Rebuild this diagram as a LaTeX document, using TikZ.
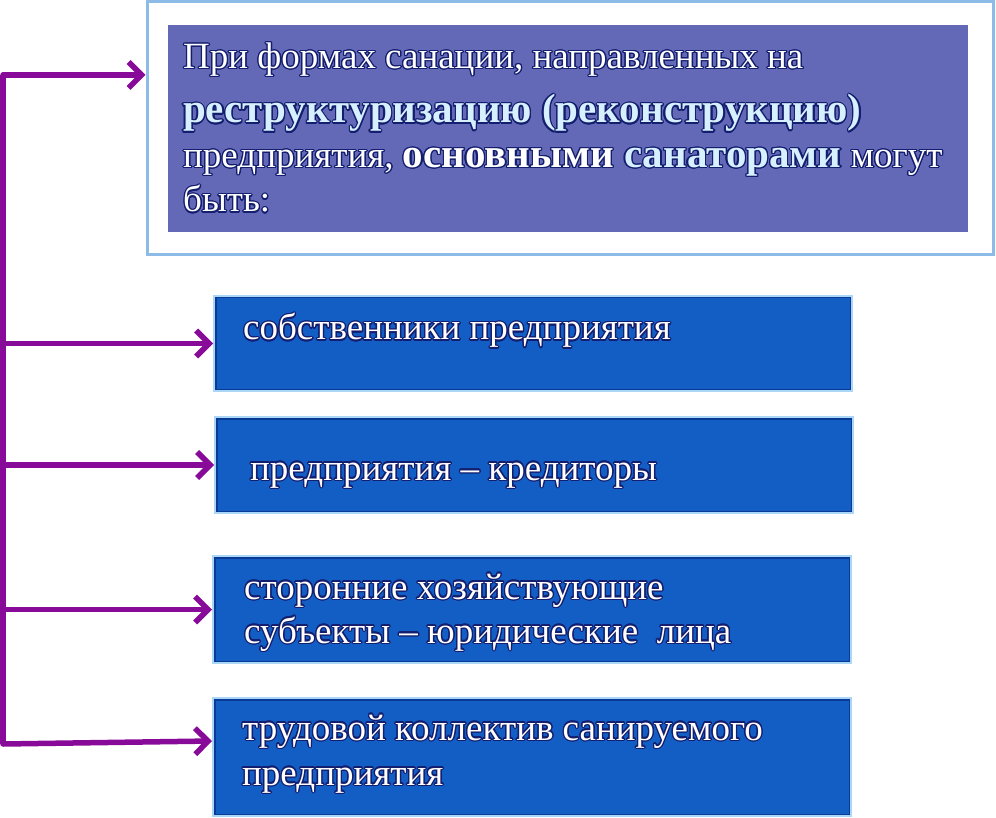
\documentclass[tikz,border=0pt]{standalone}
\usepackage{fontspec}
\setmainfont{Liberation Serif}
\usepackage[copies]{contour}
\contourlength{1.3pt}
\usetikzlibrary{arrows.meta}

\definecolor{spine}{RGB}{136,10,152}
\definecolor{headedge}{RGB}{141,187,231}
\definecolor{headfill}{RGB}{99,105,183}
\definecolor{itemfill}{RGB}{18,94,196}
\definecolor{itemdark}{RGB}{8,58,150}
\definecolor{itemedge}{RGB}{170,214,248}
\definecolor{boldtext}{RGB}{215,240,255}
\definecolor{glow}{RGB}{20,30,110}

\newcommand{\glow}[1]{\contour{glow}{#1}}

\tikzset{
	itembox/.style={draw=itemedge, line width=2pt, fill=itemfill, minimum width=638pt, inner sep=0pt,
		path picture={\draw[itemdark, line width=5pt] (path picture bounding box.south west) rectangle (path picture bounding box.north east);}},
	itemtext/.style={text=white, font=\fontsize{37}{44}\selectfont, align=left, inner sep=0pt, anchor=base west},
	feed/.style={draw=spine, line width=5.5pt, line cap=round, line join=round, -{Straight Barb[length=13pt,width=26pt]}},
}

\begin{document}
\begin{tikzpicture}[x=1pt, y=-1pt]
	\useasboundingbox (0,0) rectangle (996,818);

	\coordinate (top) at (3,75);
	\coordinate (bottom) at (3,744);

	\node [draw=headedge, line width=3pt, fill=white, minimum width=846pt, minimum height=253pt] (head) at (570,128.5) {};
	\node [fill=headfill, minimum width=800pt, minimum height=207pt] (headfill) at (568,128.5) {};
	% base anchor sits on the last line
	\node [text=white, font=\fontsize{37}{44.5}\selectfont, align=left, inner sep=0pt, anchor=base west] (headtext) at (183,212)
		{\glow{При формах санации, направленных на}\\[10pt]
		{\color{boldtext}\bfseries\fontsize{41}{45}\selectfont \glow{реструктуризацию (реконструкцию)}}\\
		\glow{предприятия,} {\bfseries\fontsize{41}{45}\selectfont \glow{основными} {\color{boldtext}\glow{санаторами}}} \glow{могут}\\
		\glow{быть:}};

	\node [itembox, minimum height=95pt] (owners) at (533,343.5) {};
	\node [itembox, minimum height=96pt] (creditors) at (534,465) {};
	\node [itembox, minimum height=107pt] (outsiders) at (532,609.5) {};
	\node [itembox, minimum height=118pt] (staff) at (532,757) {};

	\node [itemtext] (ownerstext) at (243,340) {\glow{собственники предприятия}};
	\node [itemtext] (creditorstext) at (250,480) {\glow{предприятия -- кредиторы}};
	\node [itemtext] (outsiderstext) at (244,643) {\glow{сторонние хозяйствующие}\\\glow{субъекты -- юридические\ \ лица}};
	\node [itemtext, font=\fontsize{37}{45}\selectfont] (stafftext) at (242,785) {\glow{трудовой коллектив санируемого}\\\glow{предприятия}};

	\draw [spine, line width=5.5pt] (top) -- (bottom);
	\draw [feed] (top) -- (top -| head.west);
	\draw [feed] (owners.west -| top) -- (owners.west);
	\draw [feed] (creditors.west -| top) -- (creditors.west);
	\draw [feed] (outsiders.west -| top) -- (outsiders.west);
	\draw [feed] (bottom) -- ([yshift=16pt]staff.west);
\end{tikzpicture}
\end{document}
